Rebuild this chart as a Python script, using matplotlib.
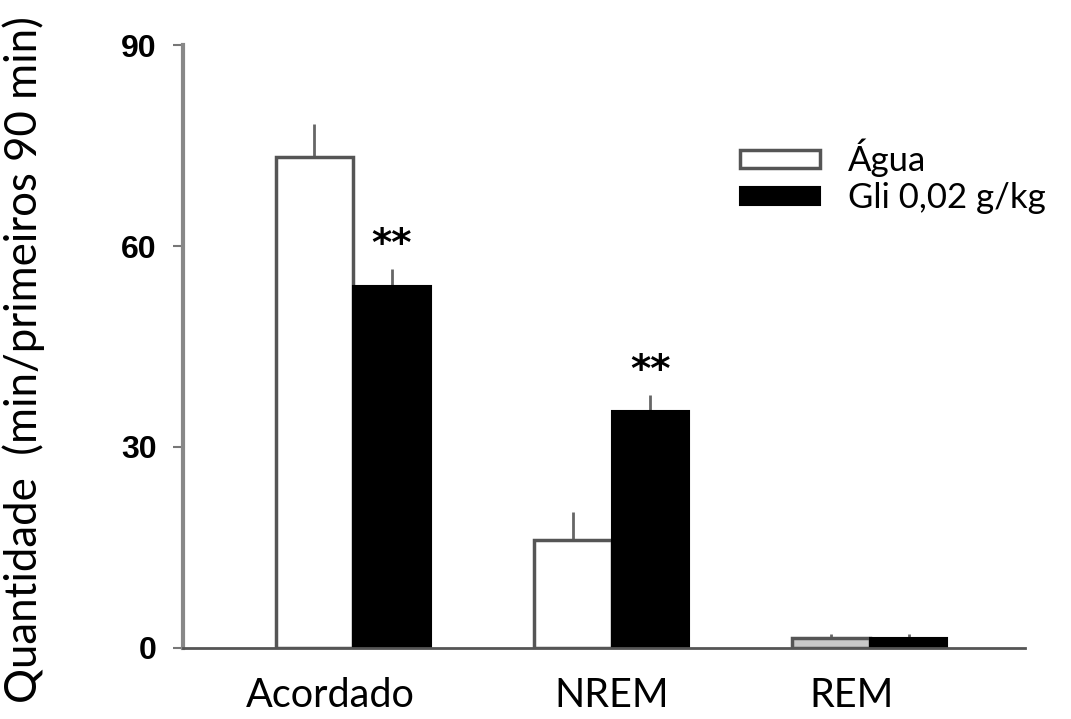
import matplotlib.pyplot as plt
import numpy as np

categorias = ["Acordado", "NREM", "REM"]
agua = [73.3, 16.1, 1.5]
agua_err = [5.0, 4.2, 0.6]
gli = [54.0, 35.3, 1.5]
gli_err = [2.6, 2.5, 0.6]
signif_gli = ["**", "**", ""]

fig = plt.figure(figsize=(10.71, 7.19), dpi=100)
ax = fig.add_axes([0.171, 0.099, 0.786, 0.838])

x = np.arange(len(categorias))
w = 0.30

cores_agua = ["white", "white", "#c8c8c8"]
ax.bar(x - w/2, agua, w, color=cores_agua, edgecolor="#555555", linewidth=2.5, label="Água", zorder=2)
ax.bar(x + w/2, gli, w, color="black", edgecolor="black", linewidth=1.5, label="Gli 0,02 g/kg", zorder=2)

# barras de erro so para cima
ax.errorbar(x - w/2, agua, yerr=[np.zeros(3), agua_err], fmt="none", ecolor="#666666", elinewidth=2, capsize=0, zorder=1)
ax.errorbar(x + w/2, gli, yerr=[np.zeros(3), gli_err], fmt="none", ecolor="#666666", elinewidth=2, capsize=0, zorder=1)

for xi, v, e, s in zip(x + w/2, gli, gli_err, signif_gli):
    if s:
        ax.text(xi, v + e + 3.6, s, ha="center", va="center", fontsize=28, fontweight="bold", family="DejaVu Sans")

ax.set_xlim(-0.658, 2.6)
ax.set_ylim(0, 90)
ax.set_yticks([0, 30, 60, 90])
ax.set_yticklabels(["0", "30", "60", "90"], fontsize=23, fontweight="bold", family="Liberation Sans")
# rotulos um pouco deslocados como no original
ax.set_xticks(x + np.array([-0.09, 0.0, -0.07]))
ax.set_xticklabels(categorias, fontsize=28.5, family="Lato")
ax.tick_params(axis="x", length=0, pad=21)
ax.tick_params(axis="y", length=7, width=1.5, color="#777777", pad=12)

ax.spines["top"].set_visible(False)
ax.spines["right"].set_visible(False)
ax.spines["left"].set_color("#888888")
ax.spines["left"].set_linewidth(3)
ax.spines["bottom"].set_color("#555555")
ax.spines["bottom"].set_linewidth(2)

ax.set_ylabel("Quantidade  (min/primeiros 90 min)", fontsize=31.5, family="Lato")
ax.yaxis.set_label_coords(-0.164, 0.478)

leg = ax.legend(loc="upper left", bbox_to_anchor=(0.6615, 0.845), frameon=False,
                prop={"family": "Lato", "size": 25}, handlelength=2.3, handleheight=0.4,
                handletextpad=0.8, labelspacing=0.15, borderpad=0, borderaxespad=0)

fig.savefig("out.png", dpi=100)
